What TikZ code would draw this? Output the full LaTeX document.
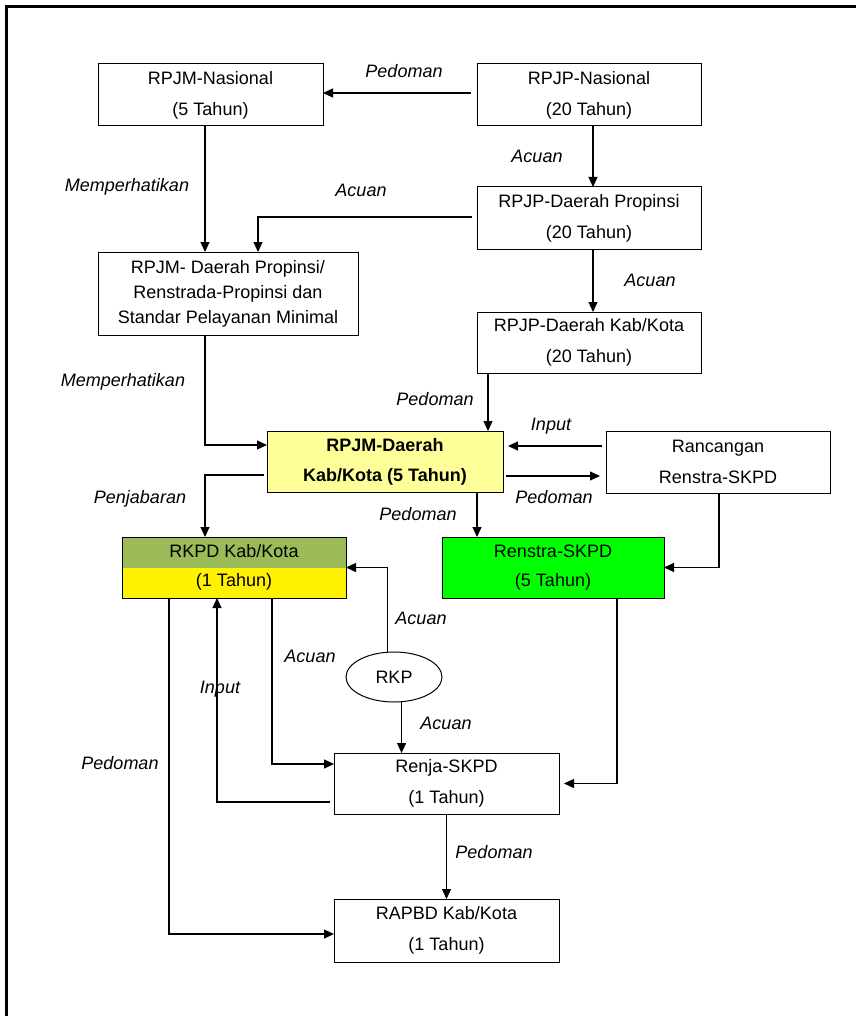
\documentclass[tikz,border=0pt]{standalone}
\usepackage{fontspec}
\setmainfont{Liberation Sans}
\usetikzlibrary{arrows.meta,shapes.geometric}
\definecolor{lyellow}{HTML}{FFFF99}
\definecolor{oliveg}{HTML}{9BBB59}
\definecolor{bgreen}{HTML}{00FF00}
\begin{document}
\begin{tikzpicture}[x=1pt,y=-1pt,
  box/.style={draw=black,line width=1pt,rectangle,inner sep=0pt,outer sep=0pt,align=center,font=\fontsize{18}{31}\selectfont},
  lbl/.style={font=\fontsize{18}{20}\selectfont\itshape,anchor=base,inner sep=0pt},
  arr/.style={-{Triangle[length=10pt,width=9pt]},line width=1.2pt}]
\useasboundingbox (0,0) rectangle (856,1016);
% frame
\draw[line width=3pt] (6.5,1016) -- (6.5,7) -- (856,7);

% boxes
\node[box,minimum width=225pt,minimum height=62pt] (nas5) at (210.5,95) {RPJM-Nasional\\(5 Tahun)};
\node[box,minimum width=224pt,minimum height=62pt] (nas20) at (589,95) {RPJP-Nasional\\(20 Tahun)};
\node[box,minimum width=224pt,minimum height=62pt] (prov20) at (589,218) {RPJP-Daerah Propinsi\\(20 Tahun)};
\node[box,minimum width=260pt,minimum height=83pt,font=\fontsize{18}{25}\selectfont] (prov5) at (228,293.5) {RPJM- Daerah Propinsi/\\Renstrada-Propinsi dan\\Standar Pelayanan Minimal};
\node[box,minimum width=224pt,minimum height=61pt] (kab20) at (589,342.5) {RPJP-Daerah Kab/Kota\\(20 Tahun)};
\node[box,minimum width=236pt,minimum height=61pt,fill=lyellow,font=\fontsize{18}{30}\selectfont\bfseries] (kab5) at (385,461.5) {RPJM-Daerah\\Kab/Kota (5 Tahun)};
\node[box,minimum width=224pt,minimum height=62pt] (ranc) at (718,462) {Rancangan\\Renstra-SKPD};
\node[box,minimum width=224pt,minimum height=61pt,fill=yellow,font=\fontsize{18}{29}\selectfont,
  path picture={\fill[oliveg] (path picture bounding box.north west) rectangle (path picture bounding box.east);}] (rkpd) at (234,567.5) {RKPD Kab/Kota\\(1 Tahun)};
\node[box,minimum width=222pt,minimum height=61pt,fill=bgreen,font=\fontsize{18}{29}\selectfont] (renstra) at (553,567.5) {Renstra-SKPD\\(5 Tahun)};
\node[draw=black,ellipse,line width=1pt,minimum width=96pt,minimum height=50pt,inner sep=0pt,outer sep=0pt,font=\fontsize{18}{20}\selectfont] (rkp) at (394,677) {RKP};
\node[box,minimum width=225pt,minimum height=61pt] (renja) at (446.5,783.5) {Renja-SKPD\\(1 Tahun)};
\node[box,minimum width=225pt,minimum height=63pt] (rapbd) at (446.5,930.5) {RAPBD Kab/Kota\\(1 Tahun)};

\coordinate (rkpt) at (rkp.105);
\coordinate (rkpb) at (rkp.-73);

% connectors
\draw[arr,shorten <=6pt] (nas20.west |- 0,93) -- (nas5.east |- 0,93);
\draw[arr] (nas20.south -| 593,0) -- (prov20.north -| 593,0);
\draw[arr] (prov20.south -| 593,0) -- (kab20.north -| 593,0);
\draw[arr] (nas5.south -| 205,0) -- (prov5.north -| 205,0);
\draw[arr,shorten <=5pt] (prov20.west |- 0,217) -| (prov5.north -| 258,0);
\draw[arr] (prov5.south -| 205,0) |- (kab5.west |- 0,445);
\draw[arr] (kab20.south -| 488,0) -- (kab5.north -| 488,0);
\draw[arr,shorten <=4pt,shorten >=5pt] (ranc.west |- 0,446) -- (kab5.east |- 0,446);
\draw[arr,shorten <=3pt,shorten >=6pt] (kab5.east |- 0,476) -- (ranc.west |- 0,476);
\draw[arr] (ranc.south -| 719,0) |- (renstra.east);
\draw[arr] (kab5.south -| 477,0) -- (renstra.north -| 477,0);
\draw[arr,shorten <=3pt] (kab5.west |- 0,475) -| (rkpd.north -| 205,0);
\draw[arr] (rkpt) |- (rkpd.east);
\draw[arr] (rkpb) -- (renja.north -| rkpb);
\draw[arr] (rkpd.south -| 169,0) |- (rapbd.west |- 0,934);
\draw[arr,shorten <=4pt] (renja.west |- 0,802) -| (rkpd.south -| 217,0);
\draw[arr] (rkpd.south -| 272,0) |- (renja.west |- 0,764);
\draw[arr,shorten >=5pt] (renstra.south -| 617,0) |- (renja.east);
\draw[arr] (renja.south) -- (rapbd.north);

% labels
\node[lbl] (l1) at (404,78) {Pedoman};
\node[lbl] (l2) at (127,192) {Memperhatikan};
\node[lbl] (l3) at (361,197) {Acuan};
\node[lbl] (l4) at (537,163) {Acuan};
\node[lbl] (l5) at (650,286) {Acuan};
\node[lbl] (l6) at (123,386) {Memperhatikan};
\node[lbl] (l7) at (435,405) {Pedoman};
\node[lbl] (l8) at (551,430) {Input};
\node[lbl] (l9) at (554,503) {Pedoman};
\node[lbl] (l10) at (140,503) {Penjabaran};
\node[lbl] (l11) at (418,520) {Pedoman};
\node[lbl] (l12) at (421,624) {Acuan};
\node[lbl] (l13) at (310,662) {Acuan};
\node[lbl] (l14) at (220,693) {Input};
\node[lbl] (l15) at (446,729) {Acuan};
\node[lbl] (l16) at (120,769) {Pedoman};
\node[lbl] (l17) at (494,858) {Pedoman};
\end{tikzpicture}
\end{document}
